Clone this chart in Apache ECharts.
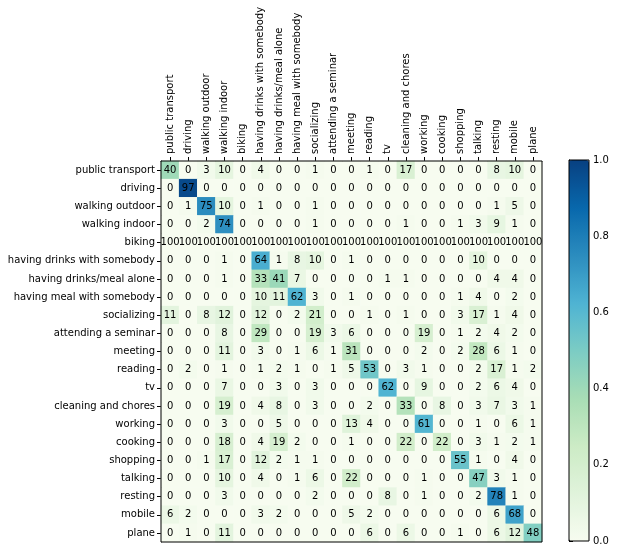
<!DOCTYPE html>
<html>
<head>
<meta charset="utf-8">
<script src="https://cdn.jsdelivr.net/npm/echarts@6/dist/echarts.min.js"></script>
<style>
html,body{margin:0;padding:0;background:#fff;}
#chart{width:618px;height:554px;}
</style>
</head>
<body>
<div id="chart"></div>
<script>
const labels = ['public transport','driving','walking outdoor','walking indoor','biking',
  'having drinks with somebody','having drinks/meal alone','having meal with somebody',
  'socializing','attending a seminar','meeting','reading','tv','cleaning and chores',
  'working','cooking','shopping','talking','resting','mobile','plane'];

const mPublicTransport = [40,0,3,10,0,4,0,0,1,0,0,1,0,17,0,0,0,0,8,10,0];
const mDriving         = [0,97,0,0,0,0,0,0,0,0,0,0,0,0,0,0,0,0,0,0,0];
const mWalkingOutdoor  = [0,1,75,10,0,1,0,0,1,0,0,0,0,0,0,0,0,0,1,5,0];
const mWalkingIndoor   = [0,0,2,74,0,0,0,0,1,0,0,0,0,1,0,0,1,3,9,1,0];
const mBiking          = [100,100,100,100,100,100,100,100,100,100,100,100,100,100,100,100,100,100,100,100,100];
const mDrinksSomebody  = [0,0,0,1,0,64,1,8,10,0,1,0,0,0,0,0,0,10,0,0,0];
const mDrinksAlone     = [0,0,0,1,0,33,41,7,0,0,0,0,1,1,0,0,0,0,4,4,0];
const mMealSomebody    = [0,0,0,0,0,10,11,62,3,0,1,0,0,0,0,0,1,4,0,2,0];
const mSocializing     = [11,0,8,12,0,12,0,2,21,0,0,1,0,1,0,0,3,17,1,4,0];
const mSeminar         = [0,0,0,8,0,29,0,0,19,3,6,0,0,0,19,0,1,2,4,2,0];
const mMeeting         = [0,0,0,11,0,3,0,1,6,1,31,0,0,0,2,0,2,28,6,1,0];
const mReading         = [0,2,0,1,0,1,2,1,0,1,5,53,0,3,1,0,0,2,17,1,2];
const mTv              = [0,0,0,7,0,0,3,0,3,0,0,0,62,0,9,0,0,2,6,4,0];
const mCleaning        = [0,0,0,19,0,4,8,0,3,0,0,2,0,33,0,8,0,3,7,3,1];
const mWorking         = [0,0,0,3,0,0,5,0,0,0,13,4,0,0,61,0,0,1,0,6,1];
const mCooking         = [0,0,0,18,0,4,19,2,0,0,1,0,0,22,0,22,0,3,1,2,1];
const mShopping        = [0,0,1,17,0,12,2,1,1,0,0,0,0,0,0,0,55,1,0,4,0];
const mTalking         = [0,0,0,10,0,4,0,1,6,0,22,0,0,0,1,0,0,47,3,1,0];
const mResting         = [0,0,0,3,0,0,0,0,2,0,0,0,8,0,1,0,0,2,78,1,0];
const mMobile          = [6,2,0,0,0,3,2,0,0,0,5,2,0,0,0,0,0,0,6,68,0];
const mPlane           = [0,1,0,11,0,0,0,0,0,0,0,6,0,6,0,0,1,0,6,12,48];

const matrix = [mPublicTransport,mDriving,mWalkingOutdoor,mWalkingIndoor,mBiking,
  mDrinksSomebody,mDrinksAlone,mMealSomebody,mSocializing,mSeminar,mMeeting,mReading,
  mTv,mCleaning,mWorking,mCooking,mShopping,mTalking,mResting,mMobile,mPlane];

// rows without samples (normalisation undefined) are drawn with the lowest colour
const emptyRows = ['biking'];
const colorbarTicks = [0, 0.2, 0.4, 0.6, 0.8, 1.0];

const gnbu = ['#f7fcf0','#e0f3db','#ccebc5','#a8ddb5','#7bccc4','#4eb3d3','#2b8cbe','#0868ac','#084081'];

const data = [];
matrix.forEach((row, r) => {
  row.forEach((v, c) => {
    const norm = emptyRows.includes(labels[r]) ? 0 : v / 100;
    data.push([c, r, norm, v]);
  });
});

const FONT = 'DejaVu Sans';
const txt = {fontFamily: FONT, fontSize: 10, color: '#000'};

const chart = echarts.init(document.getElementById('chart'), null, {renderer: 'canvas'});
chart.setOption({
  backgroundColor: '#fff',
  animation: false,
  grid: [
    {left: 161, top: 161, width: 381, height: 381, show: true, borderColor: '#000', borderWidth: 1, backgroundColor: 'transparent', z: 10},
    {left: 569, top: 160, width: 20, height: 381, show: true, borderColor: '#000', borderWidth: 1, backgroundColor: 'transparent', z: 10}
  ],
  xAxis: [
    {type: 'category', data: labels, gridIndex: 0, position: 'top',
     axisLine: {show: true, lineStyle: {color: '#000'}},
     axisTick: {show: true, alignWithLabel: true, length: 4, lineStyle: {color: '#000'}},
     axisLabel: Object.assign({rotate: -90, interval: 0, margin: 7}, txt),
     splitLine: {show: false}},
    {type: 'value', gridIndex: 1, min: 0, max: 1, show: false}
  ],
  yAxis: [
    {type: 'category', data: labels, gridIndex: 0, inverse: true,
     axisLine: {show: true, lineStyle: {color: '#000'}},
     axisTick: {show: true, alignWithLabel: true, length: 4, lineStyle: {color: '#000'}},
     axisLabel: Object.assign({interval: 0, margin: 6}, txt),
     splitLine: {show: false}},
    {type: 'value', gridIndex: 1, min: colorbarTicks[0], max: colorbarTicks[colorbarTicks.length-1],
     interval: colorbarTicks[1] - colorbarTicks[0], position: 'right',
     axisLine: {show: true, lineStyle: {color: '#000'}},
     axisTick: {show: true, length: 4, inside: false, lineStyle: {color: '#000'}},
     axisLabel: Object.assign({margin: 4, formatter: v => v.toFixed(1)}, txt),
     splitLine: {show: false}}
  ],
  visualMap: {
    type: 'continuous', min: 0, max: 1, dimension: 2, seriesIndex: 0,
    left: 569, top: 160, itemWidth: 20, itemHeight: 381, padding: 0,
    calculable: false, hoverLink: false, text: null, showLabel: false,
    inRange: {color: gnbu}
  },
  series: [{
    type: 'heatmap', xAxisIndex: 0, yAxisIndex: 0, data: data,
    encode: {x: 0, y: 1},
    label: Object.assign({show: true, formatter: p => String(p.value[3])}, txt),
    itemStyle: {borderWidth: 0},
    emphasis: {disabled: true}
  }]
});
</script>
</body>
</html>
